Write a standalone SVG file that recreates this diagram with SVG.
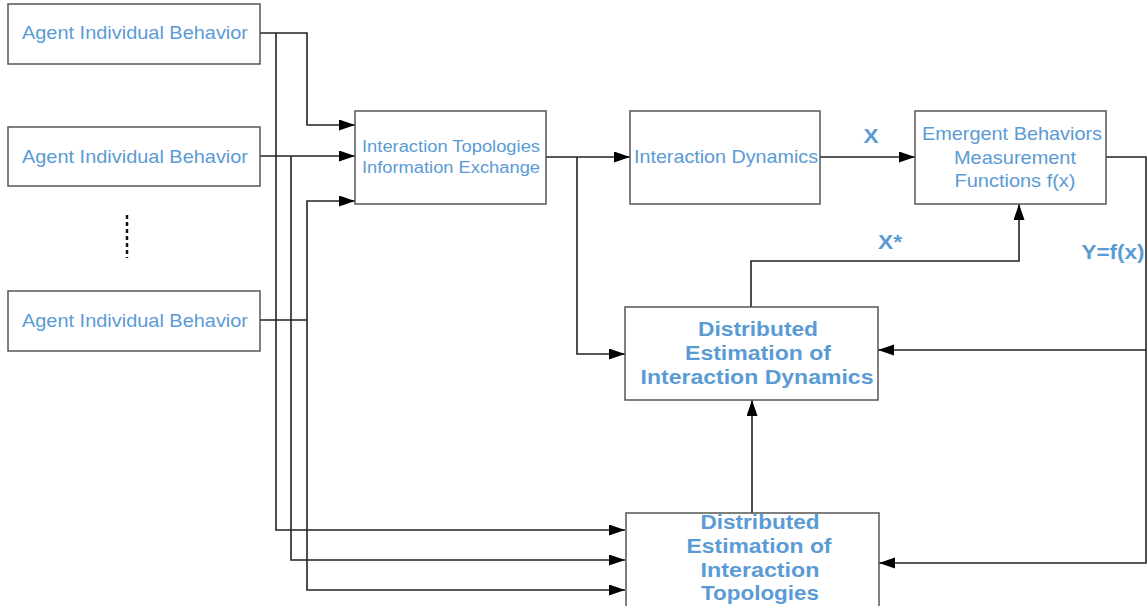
<svg xmlns="http://www.w3.org/2000/svg" width="1147" height="606" viewBox="0 0 1147 606">
<defs>
<marker id="arr" markerUnits="userSpaceOnUse" markerWidth="17" markerHeight="12" refX="16" refY="5.5" orient="auto">
<path d="M0,0 L16,5.5 L0,11 z" fill="#000"/>
</marker>
<style>
.box{fill:#fff;stroke:#555;stroke-width:1.5}
.t{font-family:"Liberation Sans",Arial,sans-serif;fill:#5b9bd5;text-anchor:middle}
.n{font-size:19px}
.s{font-size:16px}
.b{font-size:20px;font-weight:bold}
.c{fill:none;stroke:#222;stroke-width:1.6}
.a{marker-end:url(#arr)}
</style>
</defs>
<rect width="1147" height="606" fill="#fff"/>
<g id="connectors">
<path class="c a" d="M260,33 H307 V125 H355"/>
<path class="c a" d="M276,33 V530 H625"/>
<path class="c a" d="M260,156 H355"/>
<path class="c a" d="M291,156 V560 H625"/>
<path class="c" d="M260,320 H307"/>
<path class="c a" d="M307,320 V201 H355"/>
<path class="c a" d="M307,320 V590 H625"/>
<path class="c a" d="M546,157 H630"/>
<path class="c a" d="M577,157 V354 H625"/>
<path class="c a" d="M820,157 H915"/>
<path class="c a" d="M751,307 V261 H1019 V204"/>
<path class="c a" d="M1106,157 H1146 V563 H879"/>
<path class="c a" d="M1146,350 H878"/>
<path class="c a" d="M752,513 V400"/>
<path d="M127,215 V258" fill="none" stroke="#111" stroke-width="2.5" stroke-dasharray="4 3"/>
</g>
<g id="agent1">
<rect class="box" x="8" y="4" width="252" height="60"/>
<text class="t n" x="135" y="39" textLength="226" lengthAdjust="spacingAndGlyphs">Agent Individual Behavior</text>
</g>
<g id="agent2">
<rect class="box" x="8" y="127" width="252" height="59"/>
<text class="t n" x="135" y="163" textLength="226" lengthAdjust="spacingAndGlyphs">Agent Individual Behavior</text>
</g>
<g id="agent3">
<rect class="box" x="8" y="291" width="252" height="60"/>
<text class="t n" x="135" y="327" textLength="226" lengthAdjust="spacingAndGlyphs">Agent Individual Behavior</text>
</g>
<g id="topologies">
<rect class="box" x="355" y="111" width="191" height="93"/>
<text class="t s" x="451" y="152" textLength="178" lengthAdjust="spacingAndGlyphs">Interaction Topologies</text>
<text class="t s" x="451" y="173" textLength="178" lengthAdjust="spacingAndGlyphs">Information Exchange</text>
</g>
<g id="dynamics">
<rect class="box" x="630" y="111" width="190" height="93"/>
<text class="t n" x="726" y="163" textLength="184" lengthAdjust="spacingAndGlyphs">Interaction Dynamics</text>
</g>
<g id="emergent">
<rect class="box" x="915" y="111" width="191" height="93"/>
<text class="t n" x="1012" y="140" textLength="180" lengthAdjust="spacingAndGlyphs">Emergent Behaviors</text>
<text class="t n" x="1015" y="164" textLength="122" lengthAdjust="spacingAndGlyphs">Measurement</text>
<text class="t n" x="1015" y="187" textLength="121" lengthAdjust="spacingAndGlyphs">Functions f(x)</text>
</g>
<g id="est-dynamics">
<rect class="box" x="625" y="307" width="253" height="93"/>
<text class="t b" x="758" y="336" textLength="120" lengthAdjust="spacingAndGlyphs">Distributed</text>
<text class="t b" x="758" y="360" textLength="146" lengthAdjust="spacingAndGlyphs">Estimation of</text>
<text class="t b" x="757" y="384" textLength="233" lengthAdjust="spacingAndGlyphs">Interaction Dynamics</text>
</g>
<g id="est-topologies">
<rect class="box" x="626" y="513" width="253" height="100"/>
<text class="t b" x="760" y="529" textLength="119" lengthAdjust="spacingAndGlyphs">Distributed</text>
<text class="t b" x="759" y="553" textLength="145" lengthAdjust="spacingAndGlyphs">Estimation of</text>
<text class="t b" x="760" y="577" textLength="119" lengthAdjust="spacingAndGlyphs">Interaction</text>
<text class="t b" x="760" y="600" textLength="118" lengthAdjust="spacingAndGlyphs">Topologies</text>
</g>
<g id="labels">
<text class="t b" x="871" y="143" textLength="15" lengthAdjust="spacingAndGlyphs">X</text>
<text class="t b" x="890" y="249" textLength="24" lengthAdjust="spacingAndGlyphs">X*</text>
<text class="t b" x="1113" y="259" textLength="63" lengthAdjust="spacingAndGlyphs">Y=f(x)</text>
</g>
</svg>
